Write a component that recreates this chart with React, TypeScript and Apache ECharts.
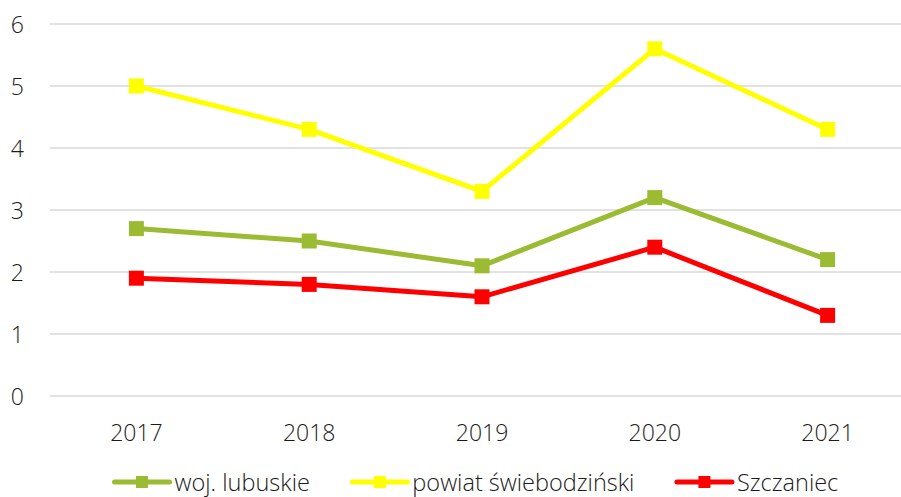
import React, { useEffect, useRef } from "react";
import * as echarts from "echarts";

const categories = ["2017", "2018", "2019", "2020", "2021"];
const lubuskie = [2.7, 2.5, 2.1, 3.2, 2.2];
const swiebodzinski = [5.0, 4.3, 3.3, 5.6, 4.3];
const szczaniec = [1.9, 1.8, 1.6, 2.4, 1.3];
const seriesNames = ["woj. lubuskie", "powiat świebodziński", "Szczaniec"];
const colors = ["#9BBB33", "#FFFF00", "#FF0000"];

export default function App() {
  const ref = useRef<HTMLDivElement>(null);
  useEffect(() => {
    if (!ref.current) return;
    const chart = echarts.init(ref.current, null, { renderer: "svg" });
    const font = "'Open Sans', sans-serif";
    const mk = (name: string, data: number[], color: string) => ({
      name,
      type: "line",
      data,
      symbol: "rect",
      symbolSize: 15,
      lineStyle: { width: 5, color },
      itemStyle: { color },
      color,
    });
    chart.setOption({
      animation: false,
      backgroundColor: "#fff",
      grid: { left: 50, right: 0, top: 24, bottom: 101 },
      legend: {
        bottom: 3,
        left: 112,
        width: 790,
        padding: 0,
        itemWidth: 55,
        itemHeight: 15,
        itemGap: 40,
        lineStyle: { width: 5, cap: "round" },
        textStyle: { fontFamily: font, fontSize: 23.5, fontWeight: 300, color: "#1a1a1a" },
        data: seriesNames,
      },
      xAxis: {
        type: "category",
        data: categories,
        boundaryGap: true,
        axisLine: { show: false },
        axisTick: { show: false },
        axisLabel: { margin: 24, fontFamily: font, fontSize: 23, fontWeight: 300, color: "#1a1a1a" },
      },
      yAxis: {
        type: "value",
        min: 0,
        max: 6,
        interval: 1,
        axisLabel: { margin: 26, fontFamily: font, fontSize: 23, fontWeight: 300, color: "#1a1a1a" },
        splitLine: { lineStyle: { color: "#D9D9D9", width: 1.5 } },
      },
      series: [
        mk(seriesNames[0], lubuskie, colors[0]),
        mk(seriesNames[1], swiebodzinski, colors[1]),
        mk(seriesNames[2], szczaniec, colors[2]),
      ],
    });
    return () => chart.dispose();
  }, []);
  return (
    <div style={{ position: "absolute", left: 0, top: 0, width: 901, height: 497, overflow: "hidden" }}>
      <div ref={ref} style={{ width: 914, height: 497 }} />
    </div>
  );
}
